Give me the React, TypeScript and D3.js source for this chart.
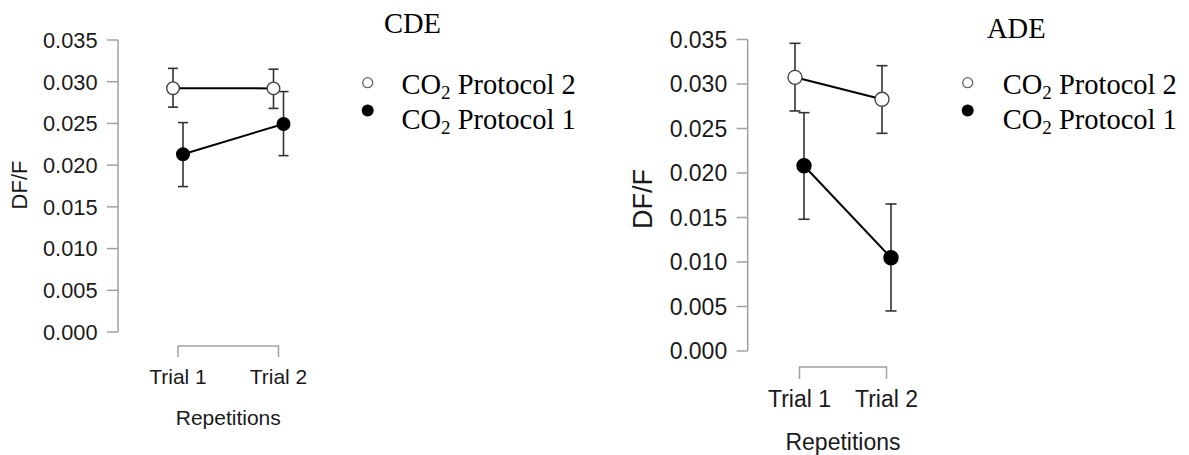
import React from "react";
import * as d3 from "d3";

const categories = ["Trial 1", "Trial 2"];
const yTicks = [0, 0.005, 0.01, 0.015, 0.02, 0.025, 0.03, 0.035];

// CDE panel
const cdeP2Mean = [0.02922, 0.0292];
const cdeP2Lower = [0.02695, 0.0268];
const cdeP2Upper = [0.0316, 0.0315];
const cdeP1Mean = [0.02131, 0.02494];
const cdeP1Lower = [0.01743, 0.02114];
const cdeP1Upper = [0.0251, 0.02882];

// ADE panel
const adeP2Mean = [0.03075, 0.02828];
const adeP2Lower = [0.02697, 0.02446];
const adeP2Upper = [0.03457, 0.03206];
const adeP1Mean = [0.02082, 0.01048];
const adeP1Lower = [0.0148, 0.0045];
const adeP1Upper = [0.02678, 0.01652];

const SANS = "'Liberation Sans', Arial, sans-serif";
const SERIF = "'Liberation Serif', 'Times New Roman', serif";

type Series = { mean: number[]; lower: number[]; upper: number[]; filled: boolean; dodge: number };

type PanelCfg = {
  title: string;
  series: Series[];
  axisX: number;
  yTop: number;
  yBottom: number;
  xLeft: number;
  xRight: number;
  tickFont: number;
  catFont: number;
  yTitleFont: number;
  yTitleX: number;
  yTitleY: number;
  bracketY: number;
  bracketH: number;
  catBaseline: number;
  repBaseline: number;
  r: number;
  cap: number;
  titleX: number;
  titleY: number;
  legX: number;
  legY1: number;
  legY2: number;
  legTextX: number;
};

function Legend({ cfg }: { cfg: PanelCfg }) {
  const lab = (num: string, y: number, gap: string) => (
    <text x={cfg.legTextX} y={y} fontFamily={SERIF} fontSize={28.5} fill="#000">
      CO
      <tspan fontSize={19} dy={5}>2</tspan>
      <tspan dy={-5}>{gap + "Protocol " + num}</tspan>
    </text>
  );
  return (
    <g>
      <text x={cfg.titleX} y={cfg.titleY} fontFamily={SERIF} fontSize={28.5} fill="#000">
        {cfg.title}
      </text>
      <circle cx={cfg.legX} cy={cfg.legY1} r={5} fill="#fff" stroke="#666" strokeWidth={1.3} />
      <circle cx={cfg.legX} cy={cfg.legY2} r={6} fill="#000" />
      {lab("2", cfg.legY1 + 11, " ")}
      {lab("1", cfg.legY2 + 18, " ")}
    </g>
  );
}

function Panel({ cfg }: { cfg: PanelCfg }) {
  const y = d3.scaleLinear().domain([0, 0.035]).range([cfg.yBottom, cfg.yTop]);
  const x = d3.scalePoint<string>().domain(categories).range([cfg.xLeft, cfg.xRight]);
  const fmt = d3.format(".3f");
  const line = d3
    .line<[number, number]>()
    .x((d) => d[0])
    .y((d) => d[1]);
  const axisColor = "#a0a0a0";
  return (
    <g>
      {/* y axis */}
      <line x1={cfg.axisX} x2={cfg.axisX} y1={y(0)} y2={y(0.035)} stroke={axisColor} strokeWidth={1.5} />
      {yTicks.map((t) => (
        <g key={t}>
          <line x1={cfg.axisX - 11} x2={cfg.axisX} y1={y(t)} y2={y(t)} stroke={axisColor} strokeWidth={1.5} />
          <text
            x={cfg.axisX - 20.5}
            y={y(t)}
            dy="0.36em"
            textAnchor="end"
            fontFamily={SANS}
            fontSize={cfg.tickFont}
            fill="#1a1a1a"
          >
            {fmt(t)}
          </text>
        </g>
      ))}
      <text
        transform={`translate(${cfg.yTitleX},${cfg.yTitleY}) rotate(-90)`}
        textAnchor="middle"
        dy="0.36em"
        fontFamily={SANS}
        fontSize={cfg.yTitleFont}
        fill="#1a1a1a"
      >
        DF/F
      </text>
      {/* x bracket */}
      <path
        d={`M${x(categories[0])},${cfg.bracketY + cfg.bracketH}V${cfg.bracketY}H${x(categories[1])}V${cfg.bracketY + cfg.bracketH}`}
        fill="none"
        stroke={axisColor}
        strokeWidth={1.5}
      />
      {categories.map((c) => (
        <text
          key={c}
          x={x(c)}
          y={cfg.catBaseline}
          textAnchor="middle"
          fontFamily={SANS}
          fontSize={cfg.catFont}
          fill="#1a1a1a"
        >
          {c}
        </text>
      ))}
      <text
        x={((x(categories[0]) as number) + (x(categories[1]) as number)) / 2}
        y={cfg.repBaseline}
        textAnchor="middle"
        fontFamily={SANS}
        fontSize={cfg.catFont}
        fill="#1a1a1a"
      >
        Repetitions
      </text>
      {/* series */}
      {cfg.series.map((s, si) => {
        const pts: [number, number][] = categories.map((c, i) => [
          (x(c) as number) + s.dodge,
          y(s.mean[i]),
        ]);
        return (
          <g key={si}>
            {categories.map((c, i) => {
              const cx = (x(c) as number) + s.dodge;
              return (
                <g key={c} stroke="#333" strokeWidth={1.6}>
                  <line x1={cx} x2={cx} y1={y(s.lower[i])} y2={y(s.upper[i])} />
                  <line x1={cx - cfg.cap} x2={cx + cfg.cap} y1={y(s.lower[i])} y2={y(s.lower[i])} />
                  <line x1={cx - cfg.cap} x2={cx + cfg.cap} y1={y(s.upper[i])} y2={y(s.upper[i])} />
                </g>
              );
            })}
            <path d={line(pts) as string} fill="none" stroke="#000" strokeWidth={2} />
          </g>
        );
      })}
      {cfg.series.map((s, si) =>
        categories.map((c, i) => (
          <circle
            key={si + c}
            cx={(x(c) as number) + s.dodge}
            cy={y(s.mean[i])}
            r={cfg.r}
            fill={s.filled ? "#000" : "#fff"}
            stroke={s.filled ? "#000" : "#444"}
            strokeWidth={1.4}
          />
        ))
      )}
      <Legend cfg={cfg} />
    </g>
  );
}

const cdeCfg: PanelCfg = {
  title: "CDE",
  series: [
    { mean: cdeP1Mean, lower: cdeP1Lower, upper: cdeP1Upper, filled: true, dodge: 5 },
    { mean: cdeP2Mean, lower: cdeP2Lower, upper: cdeP2Upper, filled: false, dodge: -5 },
  ],
  axisX: 118,
  yTop: 40,
  yBottom: 332,
  xLeft: 178,
  xRight: 278.5,
  tickFont: 21.8,
  catFont: 21,
  yTitleFont: 22,
  yTitleX: 19,
  yTitleY: 185,
  bracketY: 346,
  bracketH: 11,
  catBaseline: 384,
  repBaseline: 425,
  r: 6.3,
  cap: 5,
  titleX: 384,
  titleY: 33,
  legX: 367.7,
  legY1: 82.7,
  legY2: 110.5,
  legTextX: 401.5,
};

const adeCfg: PanelCfg = {
  title: "ADE",
  series: [
    { mean: adeP1Mean, lower: adeP1Lower, upper: adeP1Upper, filled: true, dodge: 4.5 },
    { mean: adeP2Mean, lower: adeP2Lower, upper: adeP2Upper, filled: false, dodge: -4.5 },
  ],
  axisX: 747.7,
  yTop: 39.5,
  yBottom: 351,
  xLeft: 799.5,
  xRight: 886.5,
  tickFont: 23,
  catFont: 23,
  yTitleFont: 27,
  yTitleX: 642,
  yTitleY: 199,
  bracketY: 367,
  bracketH: 12,
  catBaseline: 407,
  repBaseline: 450,
  r: 7,
  cap: 5.5,
  titleX: 987,
  titleY: 38,
  legX: 967.7,
  legY1: 82.7,
  legY2: 110.5,
  legTextX: 1002.7,
};

export default function App() {
  return (
    <svg
      width={1189}
      height={455}
      viewBox="0 0 1189 455"
      style={{ position: "absolute", left: 0, top: 0, background: "#fff" }}
    >
      <rect width={1189} height={455} fill="#fff" />
      <Panel cfg={cdeCfg} />
      <Panel cfg={adeCfg} />
    </svg>
  );
}
